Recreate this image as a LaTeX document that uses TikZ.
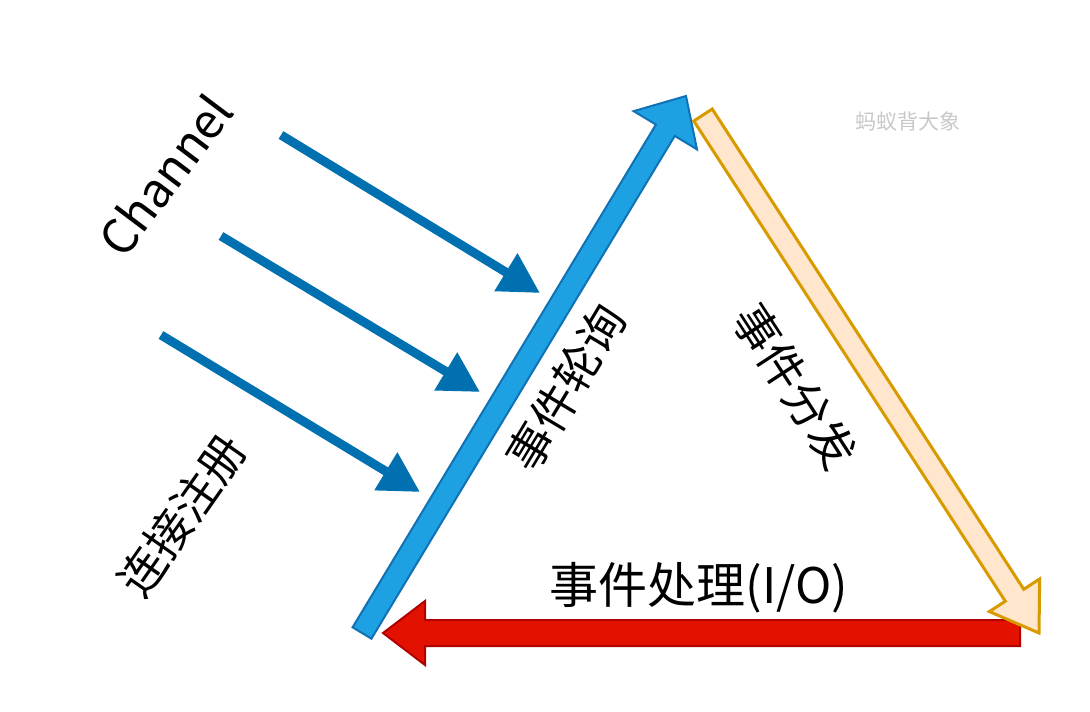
\documentclass[tikz,border=0pt]{standalone}
\usepackage{fontspec}
\newfontfamily\cjk{Noto Sans CJK SC}
\usetikzlibrary{arrows.meta,calc}
\definecolor{pollfill}{RGB}{29,161,226}
\definecolor{polldraw}{RGB}{16,113,180}
\definecolor{dispfill}{RGB}{255,230,204}
\definecolor{dispdraw}{RGB}{215,155,0}
\definecolor{iofill}{RGB}{227,17,0}
\definecolor{iodraw}{RGB}{176,0,0}
\definecolor{chanblue}{RGB}{0,112,176}
\definecolor{markgray}{RGB}{200,200,200}

% block arrow: style, tail, tip, half shaft, half head, head length
\newcommand{\blockarrow}[6]{%
  \path ($(#3)!#6!(#2)$) coordinate (ba base);
  \draw[#1] ($(#2)!#4!90:(#3)$) -- ($(ba base)!#4!90:(#3)$)
    -- ($(ba base)!#5!90:(#3)$) -- (#3)
    -- ($(ba base)!#5!-90:(#3)$) -- ($(ba base)!#4!-90:(#3)$)
    -- ($(#2)!#4!-90:(#3)$) -- cycle;}

\begin{document}
\begin{tikzpicture}[x=1pt,y=-1pt]
\tikzstyle{label}=[font=\cjk\fontsize{46}{50}\selectfont, inner sep=0pt]
\tikzstyle{chan}=[chanblue, line width=9pt, -{Triangle[length=40pt,width=42pt]}]
\useasboundingbox (0,0) rectangle (1090,712);

\coordinate (poll tail) at (362,633);
\coordinate (poll tip) at (686,96);
\coordinate (disp tail) at (703,115);
\coordinate (disp tip) at (1039,633);
\coordinate (io tail) at (1020,633);
\coordinate (io tip) at (383,633);

% the loop
\blockarrow{fill=iofill, draw=iodraw, line width=2pt}{io tail}{io tip}{13pt}{32pt}{42pt}
\blockarrow{fill=pollfill, draw=polldraw, line width=2pt}{poll tail}{poll tip}{11pt}{37pt}{40pt}
\blockarrow{fill=dispfill, draw=dispdraw, line width=3pt, line join=miter}{disp tail}{disp tip}{11pt}{30pt}{45pt}

% channels
\coordinate (ch1 from) at (281,135);
\coordinate (ch1 to) at (540,293);
\coordinate (ch2 from) at (221,236);
\coordinate (ch2 to) at (480,392);
\coordinate (ch3 from) at (161,335);
\coordinate (ch3 to) at (420,492);
\draw[chan] (ch1 from) -- (ch1 to);
\draw[chan] (ch2 from) -- (ch2 to);
\draw[chan] (ch3 from) -- (ch3 to);

% texts
\node[label, rotate=53, font=\cjk\fontsize{48}{52}\selectfont] (channel) at (165,175) {Channel};
\node[label, rotate=55] (register) at (182,515) {连接注册};
\node[label, rotate=59] (polling) at (566,388) {事件轮询};
\node[label, rotate=-57] (dispatch) at (795,386) {事件分发};
\node[label, font=\cjk\fontsize{49}{54}\selectfont] (handling) at (699,588) {事件处理(I/O)};
\node[font=\cjk\fontsize{21}{24}\selectfont, text=markgray, inner sep=0pt] (mark) at (908,121) {蚂蚁背大象};
\end{tikzpicture}
\end{document}
